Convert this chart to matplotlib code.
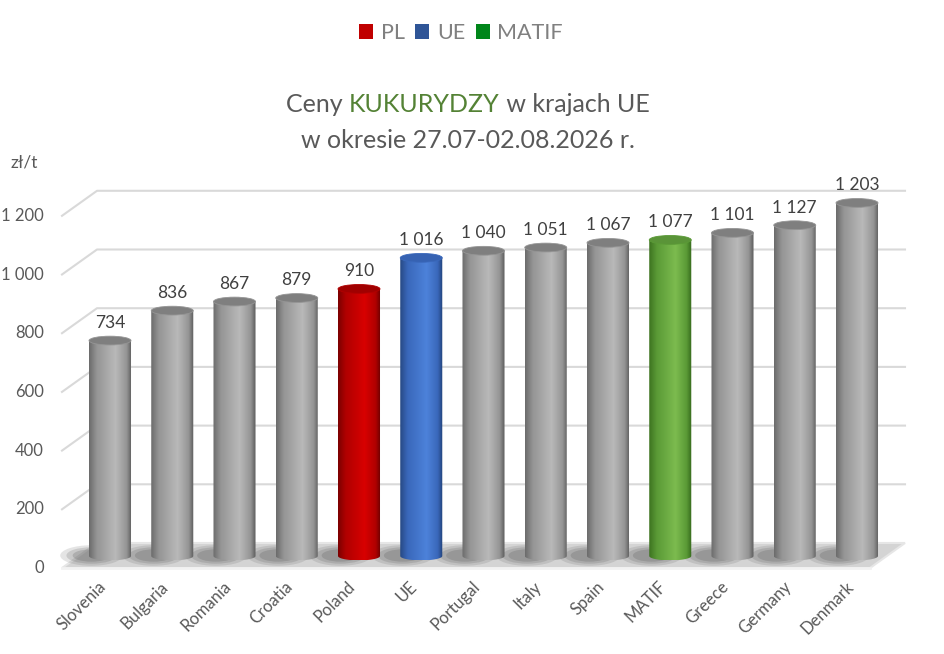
import numpy as np
import matplotlib
matplotlib.use("Agg")
import matplotlib.pyplot as plt
from matplotlib.patches import PathPatch, Ellipse, Polygon, Patch
from matplotlib.path import Path
from matplotlib.colors import to_rgb

plt.rcParams['font.family'] = ['Lato', 'DejaVu Sans']

# data
countries = ["Slovenia", "Bulgaria", "Romania", "Croatia", "Poland", "UE", "Portugal",
             "Italy", "Spain", "MATIF", "Greece", "Germany", "Denmark"]
prices = [734, 836, 867, 879, 910, 1016, 1040, 1051, 1067, 1077, 1101, 1127, 1203]
kinds = ["other", "other", "other", "other", "PL", "UE", "other",
         "other", "other", "MATIF", "other", "other", "other"]
yticks = [0, 200, 400, 600, 800, 1000, 1200]
legend_names = ["PL", "UE", "MATIF"]
legend_colors = ["#c00000", "#2f5597", "#00861a"]

# cylinder shading: (dark edge, mid, highlight, right edge, top)
shades = {
    "other": ("#6c6c6c", "#959595", "#b9b9b9", "#5c5c5c", "#7f7f7f"),
    "PL":    ("#7d0000", "#b00000", "#d80000", "#6a0000", "#a00000"),
    "UE":    ("#274a85", "#3a68bb", "#4d82da", "#22427a", "#3662b2"),
    "MATIF": ("#3d7320", "#5a9a36", "#7cbb4f", "#36691c", "#5a9438"),
}

# pixel -> data helpers (x: category index, y: value)
k = 0.2935          # px per value unit
x0px, dxpx = 110, 62.25
base_px = 556


def xd(px):
    return (px - x0px) / dxpx


def yd(py):
    return (base_px - py) / k


fig = plt.figure(figsize=(9.45, 6.54), dpi=100)
ax = fig.add_axes([0, 0, 1, 1])
ax.set_axis_off()

front0 = yd(568)
back0 = yd(543)
fl, bl, br, fr = xd(62), xd(97), xd(905), xd(870)

# grid lines (back wall + left wall slant)
for t in yticks[1:]:
    ax.plot([fl, bl, br], [t + front0, t + back0, t + back0], color="#d9d9d9", lw=1.5, zorder=1)
    ax.text(xd(44), t + front0, f"{t:,}".replace(",", " "), ha="right", va="center",
            fontsize=12, color="#595959")
ax.text(xd(44), front0, "0", ha="right", va="center", fontsize=12, color="#595959")

# floor
floor = Polygon([[fl, front0], [fr, front0], [br, back0], [bl, back0]], closed=True,
                facecolor="#d4d4d4", edgecolor="#e6e6e6", lw=1.5, zorder=1)
ax.add_patch(floor)
for i in range(len(prices)):
    for s, a in [(1.0, 0.15), (0.8, 0.18), (0.6, 0.22)]:
        ax.add_patch(Ellipse((i - 0.3, 0.5 * (front0 + back0)), 1.0 * s, 70 * s,
                             facecolor="#505050", edgecolor="none", alpha=a, zorder=1.5))
ax.plot([fl, fr], [front0, front0], color="#f2f2f2", lw=2, zorder=1.6)

# cylinders
w = 0.675
eh = 30
pos = np.linspace(0, 1, 80)
for i, (v, kind) in enumerate(zip(prices, kinds)):
    c_dark, c_mid, c_hi, c_edge, c_top = shades[kind]
    stops = [0, 0.18, 0.62, 0.88, 1.0]
    cols = np.array([to_rgb(c) for c in (c_dark, c_mid, c_hi, c_mid, c_edge)])
    grad = np.stack([np.interp(pos, stops, cols[:, j]) for j in range(3)], axis=1)

    xl, xr = i - w / 2, i + w / 2
    t = np.linspace(np.pi, 2 * np.pi, 40)
    pts = [(xl, v), (xl, 0)] + [(i + w / 2 * np.cos(a), eh / 2 * np.sin(a)) for a in t] + [(xr, v), (xl, v)]
    body = PathPatch(Path(pts, closed=True), facecolor="none", edgecolor="none", zorder=3)
    ax.add_patch(body)
    im = ax.imshow(grad[None, :, :], extent=[xl, xr, -eh / 2, v], aspect="auto",
                   interpolation="bilinear", zorder=3)
    im.set_clip_path(body)

    ax.add_patch(Ellipse((i, v), w, eh, facecolor=c_top, edgecolor=c_mid, lw=0.6, zorder=4))
    ax.text(i, v + 33, f"{v:,}".replace(",", " "), ha="center", va="bottom",
            fontsize=12.5, color="#404040", zorder=5)

    ax.text(i - 0.1, yd(584), countries[i], rotation=45, rotation_mode="anchor",
            ha="right", va="center", fontsize=12, color="#595959")

ax.text(xd(11), yd(163), "zł/t", ha="left", va="center", fontsize=12.5, color="#595959")

ax.set_xlim(xd(0), xd(945))
ax.set_ylim(yd(654), yd(0))

# legend
handles = [Patch(facecolor=c, edgecolor="none", label=n) for n, c in zip(legend_names, legend_colors)]
leg = fig.legend(handles=handles, loc="center", bbox_to_anchor=(461 / 945, 1 - 33 / 654), ncol=3,
                 frameon=False, fontsize=15.5, handlelength=0.65, handleheight=0.65,
                 handletextpad=0.35, columnspacing=0.5)
for txt in leg.get_texts():
    txt.set_color("#808080")

# title with coloured word
renderer = fig.canvas.get_renderer()
parts = [("Ceny ", "#595959"), ("KUKURYDZY", "#548235"), (" w krajach UE", "#595959")]
objs = [fig.text(0, 0, p, fontsize=18, color=c, va="center") for p, c in parts]
widths = [o.get_window_extent(renderer).width for o in objs]
xpx = 468 - sum(widths) / 2
for o, wd in zip(objs, widths):
    o.set_position((xpx / 945, 1 - 105 / 654))
    xpx += wd
fig.text(468 / 945, 1 - 140 / 654, "w okresie 27.07-02.08.2026 r.", fontsize=18,
         color="#595959", ha="center", va="center")

fig.savefig("out.png", dpi=100)
